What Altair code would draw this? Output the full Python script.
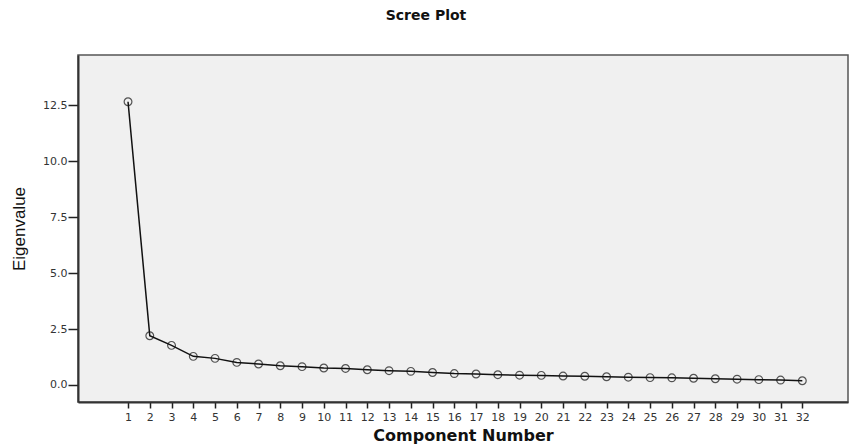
import altair as alt
import pandas as pd

# Eigenvalues of each extracted component
components = list(range(1, 33))
eigenvalues = [12.66, 2.20, 1.77, 1.28, 1.19, 1.01, 0.94, 0.86, 0.82, 0.76,
               0.74, 0.68, 0.64, 0.61, 0.56, 0.51, 0.49, 0.46, 0.44, 0.43,
               0.40, 0.39, 0.37, 0.35, 0.33, 0.32, 0.30, 0.28, 0.26, 0.24,
               0.22, 0.19]
y_ticks = [0.0, 2.5, 5.0, 7.5, 10.0, 12.5]

df = pd.DataFrame({"Component Number": components, "Eigenvalue": eigenvalues})

FONT = "Liberation Sans"
LABEL_FONT = "DejaVu Sans"

x_enc = alt.X(
    "Component Number:Q",
    scale=alt.Scale(domain=[-1.3, 34.1], nice=False, zero=False),
    axis=alt.Axis(
        values=components, format="d", grid=False,
        tickSize=6, tickColor="#222", tickWidth=1.5,
        domainColor="#333", domainWidth=2,
        labelFont=LABEL_FONT, labelFontSize=11, labelColor="#333", labelPadding=3,
        labelFlush=False, labelOverlap=False,
        title="Component Number", titleFont=LABEL_FONT, titleFontSize=16,
        titleFontWeight="bold", titleColor="#111", titlePadding=5,
    ),
)
y_enc = alt.Y(
    "Eigenvalue:Q",
    scale=alt.Scale(domain=[-0.76, 14.75], nice=False, zero=False),
    axis=alt.Axis(
        values=y_ticks, format=".1f", grid=False,
        tickSize=10, tickColor="#222", tickWidth=1.5,
        domainColor="#333", domainWidth=2,
        labelFont=LABEL_FONT, labelFontSize=11, labelColor="#333", labelPadding=1,
        labelFlush=False,
        title="Eigenvalue", titleFont=FONT, titleFontSize=17,
        titleFontWeight="normal", titleColor="#111", titlePadding=14,
    ),
)

line = alt.Chart(df).mark_line(color="#111", strokeWidth=1.5).encode(x=x_enc, y=y_enc)
points = alt.Chart(df).mark_point(
    shape="circle", size=60, filled=False, color="#111", strokeWidth=1.2
).encode(x=x_enc, y=y_enc)

chart = (
    alt.layer(line, points)
    .properties(
        width=770,
        height=347,
        title=alt.TitleParams(
            "Scree Plot", font=LABEL_FONT, fontSize=14, fontWeight="bold",
            color="#111", anchor="middle", dx=-37, offset=32,
        ),
        autosize=alt.AutoSizeParams(type="none"),
        padding={"left": 78, "top": 55, "right": 2, "bottom": 44},
    )
    .configure(background="white")
    .configure_view(fill="#f0f0f0", stroke="#555", strokeWidth=1.5)
)

chart.save("out.html", embed_options={"renderer": "svg", "actions": False})
